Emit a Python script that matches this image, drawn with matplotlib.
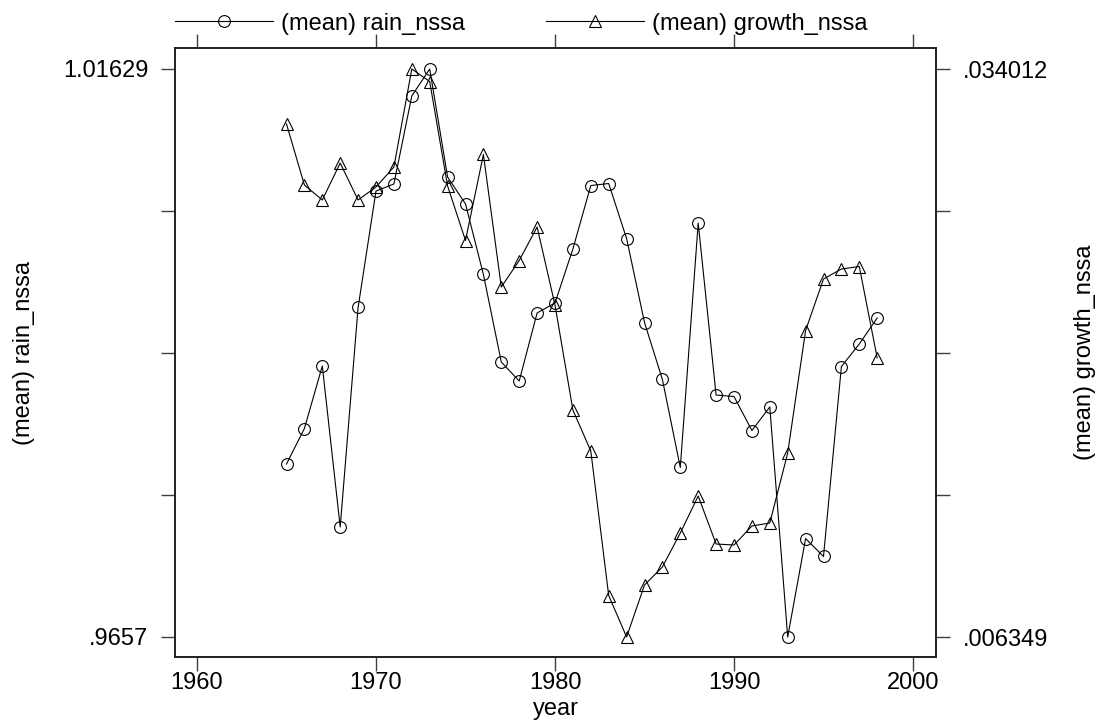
import numpy as np
import matplotlib
matplotlib.use("Agg")
import matplotlib.pyplot as plt
from matplotlib.lines import Line2D

plt.rcParams['font.family'] = ['Liberation Sans', 'DejaVu Sans']

# data
years = list(range(1965, 1999))
rain_nssa = [0.98111, 0.98427, 0.98984, 0.97550, 0.99505, 1.00542, 1.00605, 1.01389,
             1.01629, 1.00667, 1.00427, 0.99799, 0.99019, 0.98850, 0.99456, 0.99545,
             1.00026, 1.00591, 1.00609, 1.00119, 0.99371, 0.98864, 0.98080, 1.00257,
             0.98725, 0.98712, 0.98409, 0.98619, 0.96570, 0.97447, 0.97287, 0.98979,
             0.99180, 0.99411]
growth_nssa = [0.031333, 0.028362, 0.027632, 0.029434, 0.027632, 0.028265, 0.029239, 0.034012,
               0.033403, 0.028314, 0.025659, 0.029848, 0.023395, 0.024685, 0.026317, 0.022518,
               0.017404, 0.015407, 0.008370, 0.006349, 0.008881, 0.009758, 0.011414, 0.013216,
               0.010878, 0.010829, 0.011755, 0.011901, 0.015310, 0.021276, 0.023784, 0.024271,
               0.024393, 0.019937]
xticks = [1960, 1970, 1980, 1990, 2000]
rain_lim = (0.9657, 1.01629)
growth_lim = (0.006349, 0.034012)

fs = 17
axc = '#404040'

fig = plt.figure(figsize=(11.01, 7.21), dpi=100)
ax = fig.add_axes([175/1101, 1-657/721, (936-175)/1101, (657-48)/721])
ax2 = ax.twinx()

ax.plot(years, rain_nssa, color='black', lw=0.8, marker='o', ms=8.5,
        mfc='none', mec='black', mew=0.8)
ax2.plot(years, growth_nssa, color='black', lw=0.8, marker='^', ms=9,
         mfc='none', mec='black', mew=0.8)

# limits: end ticks sit at 69 px / 637 px in a 609 px tall box
def pad_lim(lo, hi):
    per = (hi - lo) / 568.0
    return lo - 20 * per, hi + 21 * per

ax.set_xlim(1960 - 22/17.9, 2000 + 23/17.9)
ax.set_ylim(*pad_lim(*rain_lim))
ax2.set_ylim(*pad_lim(*growth_lim))

ax.set_xticks(xticks)
ax.set_xticklabels([str(t) for t in xticks])
ax.tick_params(axis='x', which='both', direction='out', length=10, width=1,
               color=axc, labelsize=fs, pad=1, top=True, labeltop=False)

ax.set_yticks(np.linspace(rain_lim[0], rain_lim[1], 5))
ax.set_yticklabels(['.9657', '', '', '', '1.01629'])
ax.tick_params(axis='y', direction='out', length=10, width=1, color=axc,
               labelsize=fs, pad=9)

ax2.set_yticks(np.linspace(growth_lim[0], growth_lim[1], 5))
ax2.set_yticklabels(['.006349', '', '', '', '.034012'])
ax2.tick_params(axis='y', direction='out', length=10, width=1, color=axc,
                labelsize=fs, pad=9)

for a in (ax, ax2):
    for s in a.spines.values():
        s.set_linewidth(1.2)
        s.set_color('#202020')

ax.set_xlabel('year', fontsize=fs, labelpad=3)
ax.set_ylabel('(mean) rain_nssa', fontsize=fs, labelpad=20)
ax2.set_ylabel('(mean) growth_nssa', fontsize=fs, labelpad=19)

handles = [Line2D([], [], color='black', lw=0.8, marker='o', ms=8.5, mfc='none', mew=0.8),
           Line2D([], [], color='black', lw=0.8, marker='^', ms=9, mfc='none', mew=0.8)]
leg = ax.legend(handles, ['(mean) rain_nssa', '(mean) growth_nssa'], loc='lower left',
                bbox_to_anchor=(0, 1.022), ncol=2, frameon=False, fontsize=fs,
                handlelength=4.15, handletextpad=0.35, columnspacing=3.4,
                borderpad=0, borderaxespad=0)

fig.savefig('out.png', dpi=100)
